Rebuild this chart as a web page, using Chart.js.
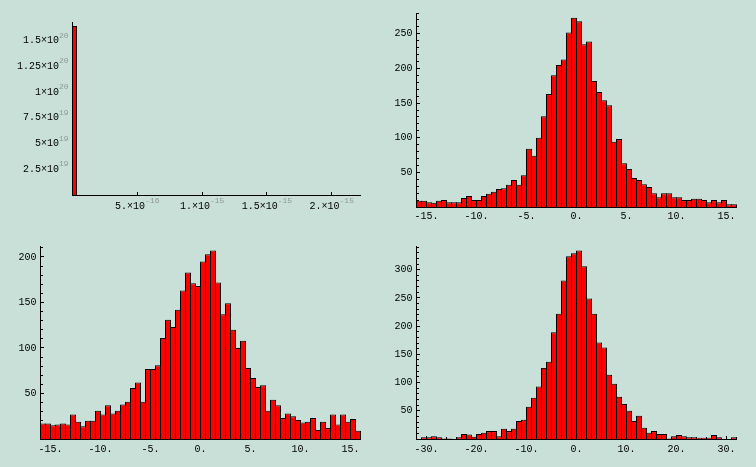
<!DOCTYPE html>
<html>
<head>
<meta charset="utf-8">
<script src="https://cdn.jsdelivr.net/npm/chart.js@4.4.1/dist/chart.umd.min.js"></script>
<style>
  html, body { margin: 0; padding: 0; background: #c8e0d8; }
  #wrap { position: relative; width: 756px; height: 467px; overflow: hidden; }
  canvas { position: absolute; }
</style>
</head>
<body>
<div id="wrap">
  <canvas id="hist1" width="378" height="233" style="left:0;top:0"></canvas>
  <canvas id="hist2" width="378" height="233" style="left:378px;top:0"></canvas>
  <canvas id="hist3" width="378" height="234" style="left:0;top:233px"></canvas>
  <canvas id="hist4" width="378" height="234" style="left:378px;top:233px"></canvas>
</div>
<script>
// top left: everything lands in the first bin
const binStart1 = 0;
const binWidth1 = 3.1e-17;
const counts1 = [1.64e20, 0];
const xTicks1 = [5e-16, 1e-15, 1.5e-15, 2e-15];
const yTicks1 = [2.5e19, 5e19, 7.5e19, 1e20, 1.25e20, 1.5e20];

// top right
const binStart2 = -16;
const binWidth2 = 0.5;
const counts2 = [9, 9, 7, 6, 9, 10, 7, 7, 7, 13, 16, 10, 10, 16, 19, 22, 26, 27, 32, 39,
    32, 46, 84, 74, 100, 131, 163, 190, 205, 213, 252, 273, 268, 235, 239, 182, 166, 154, 147, 94,
    98, 63, 55, 42, 39, 33, 29, 20, 14, 20, 20, 14, 14, 10, 10, 12, 12, 10, 7, 10,
    7, 10, 4, 4];
const xTicks2 = [-15, -10, -5, 0, 5, 10, 15];
const yTicks2 = [50, 100, 150, 200, 250];

// bottom left
const binStart3 = -16;
const binWidth3 = 0.5;
const counts3 = [17, 17, 15, 16, 17, 16, 27, 19, 14, 20, 20, 31, 27, 37, 28, 31, 38, 41, 56, 62,
    41, 77, 77, 81, 111, 131, 123, 142, 163, 183, 171, 168, 195, 203, 207, 172, 137, 149, 120, 100,
    108, 78, 67, 57, 59, 31, 43, 37, 23, 28, 25, 21, 18, 19, 23, 10, 19, 12, 27, 16,
    27, 19, 22, 9];
const xTicks3 = [-15, -10, -5, 0, 5, 10, 15];
const yTicks3 = [50, 100, 150, 200];

// bottom right
const binStart4 = -32;
const binWidth4 = 1;
const counts4 = [0, 3, 3, 5, 3, 1, 1, 0, 3, 9, 8, 4, 9, 11, 14, 14, 5, 18, 14, 18,
    32, 34, 57, 73, 93, 126, 137, 189, 222, 281, 324, 329, 334, 306, 249, 222, 171, 162, 114, 98,
    75, 62, 50, 32, 41, 20, 11, 14, 9, 9, 1, 5, 7, 5, 3, 3, 2, 2, 2, 7,
    3, 0, 0, 3];
const xTicks4 = [-30, -20, -10, 0, 10, 20, 30];
const yTicks4 = [50, 100, 150, 200, 250, 300];

const FONT = '"Liberation Mono", "DejaVu Sans Mono", monospace';
const EXP_COLOR = '#8e9894';

// mantissa / exponent pair, Mathematica style: "1.5×10" + "20"
function sciParts(v, dot) {
    const e = Math.floor(Math.log10(Math.abs(v)) + 1e-9);
    let m = String(+(v / Math.pow(10, e)).toPrecision(4));
    if (dot && m.indexOf('.') < 0) m += '.';
    return [m + '×10', String(e)];
}

function stepValues(min, max, step) {
    const out = [];
    for (let k = Math.ceil(min / step - 1e-9); k * step <= max + 1e-9 * Math.abs(step); k++) {
        out.push(k * step);
    }
    return out;
}

// small inward tick marks, drawn under the bars
const axisTicks = {
    id: 'axisTicks',
    beforeDatasetsDraw(chart, args, opts) {
        const ctx = chart.ctx;
        const xs = chart.scales.x, ys = chart.scales.y;
        const col = Math.floor(chart.chartArea.left);
        const row = Math.floor(chart.chartArea.bottom);
        const isMajor = (scale, v) => scale.ticks.some(t => Math.abs(t.value - v) <= Math.abs(v) * 1e-6);
        ctx.save();
        ctx.fillStyle = '#000';
        const yv = opts.yMinor ? stepValues(opts.yMinor, ys.max, opts.yMinor) : ys.ticks.map(t => t.value);
        yv.forEach(v => {
            const py = Math.round(ys.getPixelForValue(v) - 0.5);
            ctx.fillRect(col + 1, py, isMajor(ys, v) ? 3 : 2, 1);
        });
        const xv = opts.xMinor ? stepValues(xs.min, xs.max, opts.xMinor) : xs.ticks.map(t => t.value);
        xv.forEach(v => {
            if (v <= xs.min) return;
            const px = Math.round(xs.getPixelForValue(v) - 0.5);
            const len = isMajor(xs, v) ? 3 : 2;
            ctx.fillRect(px, row - len, 1, len);
        });
        ctx.restore();
    }
};

// tick labels with a raised grey exponent (top left panel only)
const sciLabels = {
    id: 'sciLabels',
    afterDraw(chart, args, opts) {
        if (!opts.on) return;
        const ctx = chart.ctx;
        const xs = chart.scales.x, ys = chart.scales.y;
        ctx.save();
        ctx.textBaseline = 'middle';
        ctx.textAlign = 'left';
        ys.ticks.forEach(t => {
            const [m, e] = sciParts(t.value, false);
            const py = ys.getPixelForValue(t.value);
            ctx.font = '8px ' + FONT;
            const ew = ctx.measureText(e).width;
            ctx.font = '10px ' + FONT;
            const mw = ctx.measureText(m).width;
            const right = ys.right - 4;
            ctx.fillStyle = '#000';
            ctx.fillText(m, right - ew - mw, py);
            ctx.font = '8px ' + FONT;
            ctx.fillStyle = EXP_COLOR;
            ctx.fillText(e, right - ew, py - 5);
        });
        xs.ticks.forEach(t => {
            const [m, e] = sciParts(t.value, true);
            const px = xs.getPixelForValue(t.value);
            const py = xs.top + 11.5;
            ctx.font = '10px ' + FONT;
            const mw = ctx.measureText(m).width;
            ctx.font = '8px ' + FONT;
            const ew = ctx.measureText(e).width;
            const x0 = px - (mw + ew) / 2;
            ctx.font = '10px ' + FONT;
            ctx.fillStyle = '#000';
            ctx.fillText(m, x0, py);
            ctx.font = '8px ' + FONT;
            ctx.fillStyle = EXP_COLOR;
            ctx.fillText(e, x0 + mw, py - 5.5);
        });
        ctx.restore();
    }
};

function makeHist(id, counts, binStart, binWidth, o) {
    const data = counts.map((c, i) => ({ x: binStart + (i + 0.5) * binWidth, y: c }));
    return new Chart(document.getElementById(id), {
        type: 'bar',
        data: {
            datasets: [{
                data: data,
                backgroundColor: '#ff0000',
                borderColor: '#000000',
                borderWidth: { top: 1, left: 1, right: 1, bottom: 0 },
                barPercentage: o.barPct,   // one pixel wider than the bin so edges overlap
                categoryPercentage: 1,
                inflateAmount: 0,
                clip: false
            }]
        },
        options: {
            responsive: false,
            animation: false,
            devicePixelRatio: 1,
            layout: { padding: o.pad },
            plugins: {
                legend: { display: false },
                tooltip: { enabled: false },
                axisTicks: { xMinor: o.xMinor, yMinor: o.yMinor },
                sciLabels: { on: !!o.sci }
            },
            scales: {
                x: {
                    type: 'linear',
                    min: o.xMin,
                    max: o.xMax,
                    offset: false,
                    grid: { display: false, drawTicks: false },
                    border: { display: true, color: '#000', width: 1 },
                    ticks: {
                        display: !o.sci,
                        autoSkip: false,
                        maxRotation: 0,
                        padding: o.xPadding,
                        color: '#000',
                        font: { family: FONT, size: 10 },
                        callback: (v) => v + '.'
                    },
                    afterBuildTicks: (s) => { s.ticks = o.xTicks.map(v => ({ value: v })); },
                    afterFit: (s) => { s.height = 20; }
                },
                y: {
                    min: 0,
                    max: o.yMax,
                    grid: { display: false, drawTicks: false },
                    border: { display: true, color: '#000', width: 1 },
                    ticks: {
                        display: !o.sci,
                        autoSkip: false,
                        padding: 4,
                        color: '#000',
                        font: { family: FONT, size: 10 },
                        callback: (v) => String(v)
                    },
                    afterBuildTicks: (s) => { s.ticks = o.yTicks.map(v => ({ value: v })); },
                    afterFit: (s) => { s.width = o.yWidth; }
                }
            }
        },
        plugins: [axisTicks, sciLabels]
    });
}

makeHist('hist1', counts1, binStart1, binWidth1, {
    xTicks: xTicks1, yTicks: yTicks1, xMin: 0, xMax: 2.222e-15, yMax: 1.68e20,
    sci: true, barPct: 1.25, yWidth: 60, xPadding: 3,
    pad: { left: 12.5, top: 22, right: 17.5, bottom: 18 }
});

makeHist('hist2', counts2, binStart2, binWidth2, {
    xTicks: xTicks2, yTicks: yTicks2, xMin: -16, xMax: 16, yMax: 280,
    yMinor: 10, barPct: 1.2, yWidth: 30, xPadding: 3,
    pad: { left: 8.5, top: 13, right: 19.5, bottom: 6 }
});

makeHist('hist3', counts3, binStart3, binWidth3, {
    xTicks: xTicks3, yTicks: yTicks3, xMin: -16, xMax: 16, yMax: 212,
    yMinor: 10, barPct: 1.2, yWidth: 30, xPadding: 4,
    pad: { left: 10.5, top: 13, right: 17.5, bottom: 8 }
});

makeHist('hist4', counts4, binStart4, binWidth4, {
    xTicks: xTicks4, yTicks: yTicks4, xMin: -32, xMax: 32, yMax: 342,
    yMinor: 10, xMinor: 2, barPct: 1.2, yWidth: 30, xPadding: 4,
    pad: { left: 8.5, top: 13, right: 19.5, bottom: 8 }
});
</script>
</body>
</html>
